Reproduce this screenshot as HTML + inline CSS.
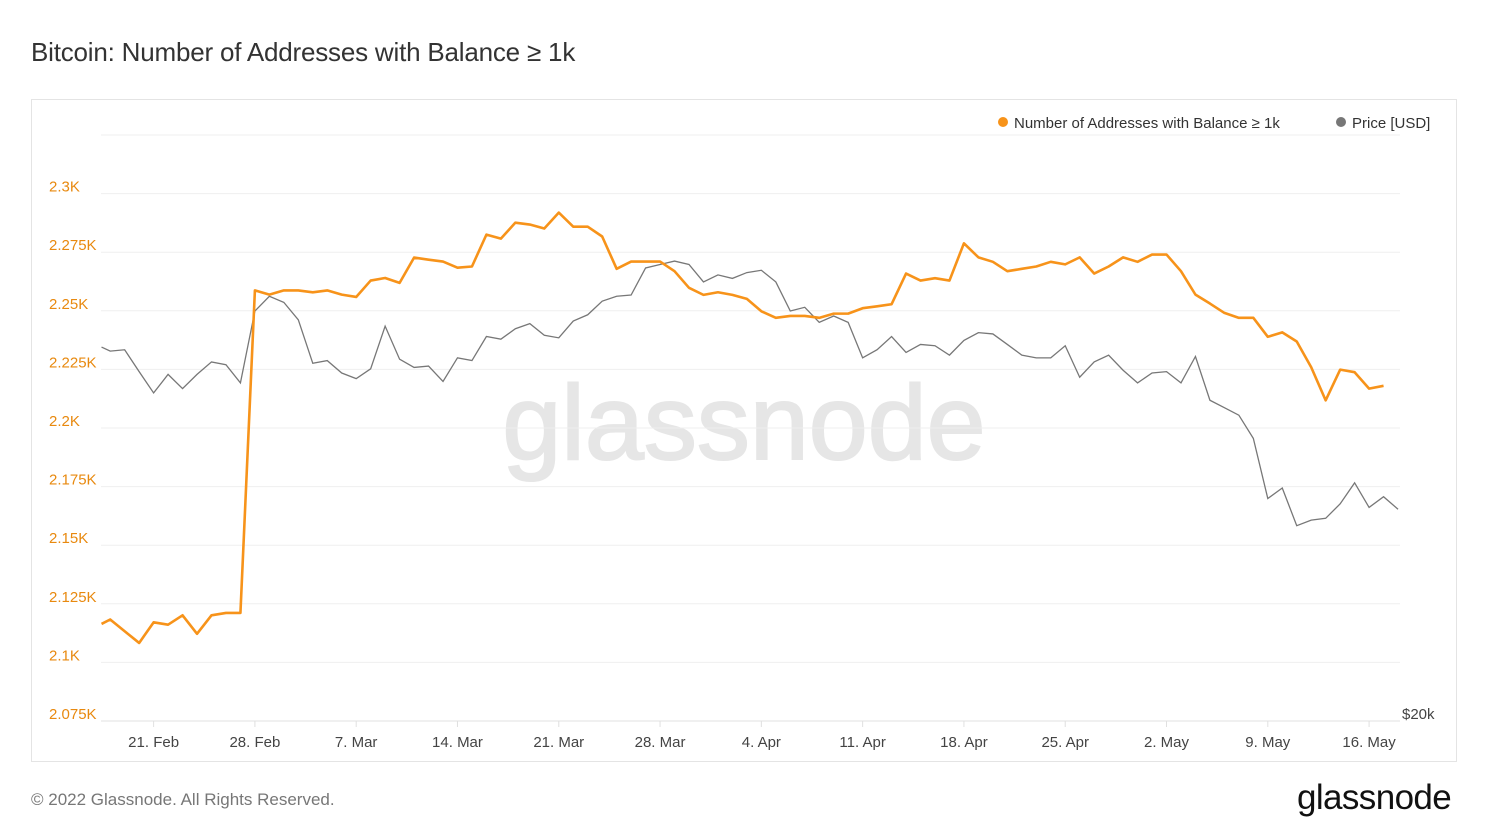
<!DOCTYPE html>
<html><head><meta charset="utf-8"><style>
body{margin:0;width:1488px;height:837px;background:#fff;font-family:"Liberation Sans",sans-serif;overflow:hidden;position:relative}
.t{position:absolute;white-space:nowrap}
</style></head><body>
<div class="t" style="left:31px;top:37px;font-size:26px;color:#333;letter-spacing:-0.2px">Bitcoin: Number of Addresses with Balance ≥ 1k</div>
<div style="position:absolute;left:31px;top:99px;width:1424px;height:661px;border:1px solid #e4e4e4"></div>
<div class="t" style="left:31px;top:790px;font-size:17px;color:#777">© 2022 Glassnode. All Rights Reserved.</div>
<div class="t" style="left:1297px;top:778px;font-size:35px;color:#111;letter-spacing:-0.6px">glassnode</div>
<svg id="chart" width="1488" height="837" style="position:absolute;left:0;top:0">
<text x="744" y="459" font-size="106" fill="#e6e6e6" stroke="#e6e6e6" stroke-width="2" text-anchor="middle" font-family="Liberation Sans, sans-serif">glassnode</text>
<g id="grid"></g><g id="lines"></g><g id="labels"></g>
<g font-size="15" fill="#333" font-family="Liberation Sans, sans-serif">
<circle cx="1003" cy="122" r="5" fill="#f7931a"/>
<text x="1014" y="128">Number of Addresses with Balance ≥ 1k</text>
<circle cx="1341" cy="122" r="5" fill="#777"/>
<text x="1352" y="128">Price [USD]</text>
</g>
</svg>
<script>
const days=[-0.6];for(let i=0;i<=89;i++)days.push(i);
const addresses=[2116.4,2118.3,2113.3,2108.3,2117.1,2116.1,2120.1,2112.2,2120.1,2121.1,2121.1,
2258.7,2256.9,2258.7,2258.7,2257.9,2258.7,2256.9,2255.9,2262.9,2264,2261.9,
2272.7,2271.8,2271,2268.4,2268.9,2282.5,2280.8,2287.6,2286.8,2285.1,2291.9,2285.9,2285.9,2281.7,
2267.9,2271,2271,2271,2266.9,2259.8,2256.8,2257.9,2256.8,2255.1,2249.8,2247,2247.8,2247.8,2247,
2248.8,2248.8,2251.1,2251.9,2252.8,2265.9,2262.9,2263.9,2262.9,2278.8,2272.8,2270.9,2266.9,2267.9,
2268.9,2270.9,2269.8,2272.8,2265.9,2268.9,2272.8,2270.9,2274,2274,2266.9,2256.9,2253.1,2249.1,
2247,2247,2238.9,2240.8,2236.9,2225.9,2211.8,2224.9,2223.8,2216.8,2218];
const price=[40.2,39.9,40.0,38.4,36.9,38.2,37.2,38.2,39.1,38.9,37.6,43.0,44.2,43.7,42.3,39.0,39.2,38.3,37.9,38.6,
41.8,39.3,38.7,38.8,37.7,39.4,39.2,41.0,40.8,41.6,42.0,41.1,40.9,42.2,42.7,43.8,44.2,44.3,46.6,46.9,47.2,46.9,
45.4,46.0,45.7,46.2,46.4,45.4,43.0,43.3,42.1,42.6,42.1,39.4,40.0,41.0,39.8,40.4,40.3,39.6,40.7,41.3,41.2,40.4,
39.6,39.4,39.4,40.3,38.0,39.1,39.6,38.5,37.6,38.3,38.4,37.6,39.5,36.4,35.9,35.4,33.9,30.3,30.9,28.8,29.1,29.2,
30.0,31.2,29.8,30.4,29.7];
const yTicks=[2075,2100,2125,2150,2175,2200,2225,2250,2275,2300,2325];
const yTickLabels=["2.075K","2.1K","2.125K","2.15K","2.175K","2.2K","2.225K","2.25K","2.275K","2.3K",""];
const xTickDays=[3,10,17,24,31,38,45,52,59,66,73,80,87];
const xTickLabels=["21. Feb","28. Feb","7. Mar","14. Mar","21. Mar","28. Mar","4. Apr","11. Apr","18. Apr","25. Apr","2. May","9. May","16. May"];
const NS="http://www.w3.org/2000/svg";
const xS=d=>110.2+d*14.47;
const yS=v=>721-(v-2075)*58.6/25;
const yP=p=>721-535.6*Math.log(p/20);
const grid=document.getElementById('grid'),lines=document.getElementById('lines'),labels=document.getElementById('labels');
function mk(tag,attrs,parent){const e=document.createElementNS(NS,tag);for(const k in attrs)e.setAttribute(k,attrs[k]);parent.appendChild(e);return e;}
yTicks.forEach((v,i)=>{
 const y=yS(v);
 const g=mk('line',{x1:101,x2:1400,y1:y,y2:y,stroke:i==0?'#e0e0e0':'#efefef','stroke-width':1},grid);
 
 
 if(yTickLabels[i]){const t=mk('text',{x:49,y:y-2,'font-size':15,fill:'#e8890f','font-family':'Liberation Sans, sans-serif'},labels);t.textContent=yTickLabels[i];
 
 }
});
xTickDays.forEach((d,i)=>{
 const x=xS(d);
 const tk=mk('line',{x1:x,x2:x,y1:721,y2:727,stroke:'#e0e0e0'},grid);
 
 
 const t=mk('text',{x:x,y:747,'font-size':15,fill:'#444','text-anchor':'middle','font-family':'Liberation Sans, sans-serif'},labels);t.textContent=xTickLabels[i];
 
 
});
const pl=mk('text',{x:1402,y:719,'font-size':15,fill:'#444','font-family':'Liberation Sans, sans-serif'},labels);pl.textContent='$20k';


const pp=mk('polyline',{points:price.map((p,i)=>xS(days[i])+','+yP(p)).join(' '),fill:'none',stroke:'#777','stroke-width':1.3},lines);


const ap=mk('polyline',{points:addresses.map((v,i)=>xS(days[i])+','+yS(v)).join(' '),fill:'none',stroke:'#f7931a','stroke-width':2.6,'stroke-linejoin':'round'},lines);


</script>
</body></html>
